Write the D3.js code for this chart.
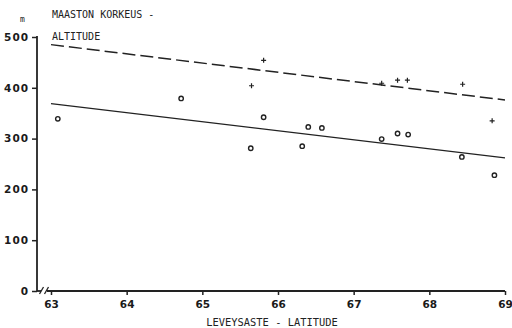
<!DOCTYPE html>
<html>
<head>
<meta charset="utf-8">
<script src="https://cdn.jsdelivr.net/npm/d3@7"></script>
<style>
body { margin: 0; background: #fff; }
svg { display: block; }
.tick text { font-family: "DejaVu Sans", sans-serif; font-weight: bold; font-size: 10.5px; fill: #1a1a1a; }
.yax .tick text { letter-spacing: 1px; }
.lbl { font-family: "DejaVu Sans Mono", monospace; fill: #222; }
</style>
</head>
<body>
<svg id="chart" width="512" height="328"></svg>
<script>
// station altitudes (circles) vs terrain altitude (crosses), by latitude
const circleLat = [63.09, 64.72, 65.64, 65.81, 66.32, 66.40, 66.58, 67.37, 67.58, 67.72, 68.43, 68.86];
const circleAlt = [339, 379, 281, 342, 285, 323, 321, 299, 310, 308, 264, 228];
const plusLat = [65.65, 65.81, 67.37, 67.58, 67.71, 68.44, 68.83];
const plusAlt = [404, 454, 409, 415, 415, 407, 335];
// regression lines, values at 63 and 69
const solidLine = [[63, 369], [69, 262]];
const dashedLine = [[63, 485], [69, 376]];
const yTicks = [0, 100, 200, 300, 400, 500];
const xTicks = [63, 64, 65, 66, 67, 68, 69];

const svg = d3.select("#chart");
const x = d3.scaleLinear().domain([63, 69]).range([51, 505]);
const y = d3.scaleLinear().domain([0, 500]).range([291, 37]);
const x0 = 37;

// y axis
svg.append("g")
    .attr("class", "yax")
    .attr("transform", `translate(${x0},0)`)
    .call(d3.axisLeft(y).tickValues(yTicks).tickSize(5).tickPadding(3).tickFormat(d3.format("d")))
    .call(g => g.select(".domain").remove())
    .call(g => g.selectAll(".tick line").attr("stroke", "#222").attr("stroke-width", 1.5));
svg.append("line")
    .attr("x1", x0).attr("x2", x0)
    .attr("y1", y(500) - 1).attr("y2", y(0))
    .attr("stroke", "#222").attr("stroke-width", 1.8);

// x axis with break
svg.append("g")
    .attr("transform", `translate(0,${y(0)})`)
    .call(d3.axisBottom(x).tickValues(xTicks).tickSize(4).tickPadding(6).tickFormat(d3.format("d")))
    .call(g => g.select(".domain").remove())
    .call(g => g.selectAll(".tick line").attr("stroke", "#222").attr("stroke-width", 1.5));
svg.append("line")
    .attr("x1", x0).attr("x2", 41)
    .attr("y1", y(0)).attr("y2", y(0))
    .attr("stroke", "#222").attr("stroke-width", 1.8);
svg.append("line")
    .attr("x1", 47).attr("x2", x(69))
    .attr("y1", y(0)).attr("y2", y(0))
    .attr("stroke", "#222").attr("stroke-width", 1.8);
[41, 46].forEach(bx => {
    svg.append("line")
        .attr("x1", bx - 1.5).attr("y1", y(0) + 3)
        .attr("x2", bx + 2.5).attr("y2", y(0) - 4)
        .attr("stroke", "#222").attr("stroke-width", 1.3);
});

// regression lines
const line = d3.line().x(d => x(d[0])).y(d => y(d[1]));
svg.append("path")
    .attr("d", line(solidLine))
    .attr("fill", "none").attr("stroke", "#222").attr("stroke-width", 1.3);
svg.append("path")
    .attr("d", line(dashedLine))
    .attr("fill", "none").attr("stroke", "#222").attr("stroke-width", 1.5)
    .attr("stroke-dasharray", "13,5");

// circles
svg.append("g")
    .selectAll("circle")
    .data(circleLat.map((d, i) => [d, circleAlt[i]]))
    .enter().append("circle")
    .attr("cx", d => x(d[0]))
    .attr("cy", d => y(d[1]))
    .attr("r", 2.2)
    .attr("fill", "none")
    .attr("stroke", "#222")
    .attr("stroke-width", 1.4);

// crosses
svg.append("g")
    .selectAll("path")
    .data(plusLat.map((d, i) => [d, plusAlt[i]]))
    .enter().append("path")
    .attr("d", d => {
        const cx = x(d[0]), cy = y(d[1]);
        return `M${cx - 2.5},${cy}H${cx + 2.5}M${cx},${cy - 2.5}V${cy + 2.5}`;
    })
    .attr("stroke", "#222")
    .attr("stroke-width", 1.2);

// labels
svg.append("text").attr("class", "lbl")
    .attr("x", 20).attr("y", 22).attr("font-size", 8).text("m");
svg.append("text").attr("class", "lbl")
    .attr("x", 52).attr("y", 18).attr("font-size", 10).text("MAASTON KORKEUS -");
svg.append("text").attr("class", "lbl")
    .attr("x", 52).attr("y", 40).attr("font-size", 10).text("ALTITUDE");
svg.append("text").attr("class", "lbl")
    .attr("x", 272).attr("y", 326).attr("font-size", 10.4)
    .attr("text-anchor", "middle").text("LEVEYSASTE - LATITUDE");
</script>
</body>
</html>
